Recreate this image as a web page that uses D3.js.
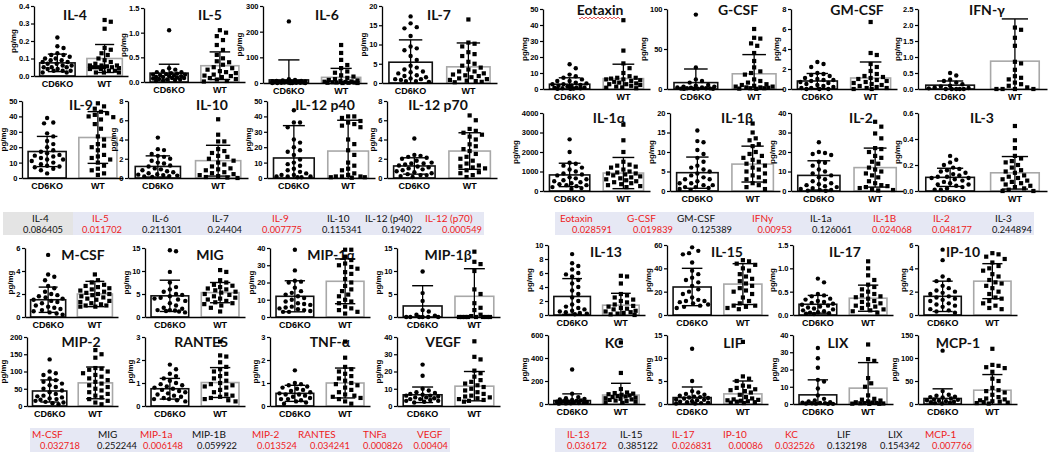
<!DOCTYPE html>
<html><head><meta charset="utf-8">
<script src="https://cdn.jsdelivr.net/npm/d3@7"></script>
<style>body{margin:0;background:#fff}svg{display:block}</style>
</head><body><svg id="c" width="1050" height="454"></svg>
<script>
// ---------------- DATA ----------------
const groups = ["CD6KO", "WT"];
const panelNames = ["IL-4","IL-5","IL-6","IL-7","IL-9","IL-10","IL-12 p40","IL-12 p70",
  "Eotaxin","G-CSF","GM-CSF","IFN-γ","IL-1α","IL-1β","IL-2","IL-3",
  "M-CSF","MIG","MIP-1α","MIP-1β","MIP-2","RANTES","TNF-α","VEGF",
  "IL-13","IL-15","IL-17","IP-10","KC","LIF","LIX","MCP-1"];
const yTickLabels = [
  ["0.0","0.1","0.2","0.3","0.4"],["0.0","0.5","1.0","1.5"],["0","100","200","300"],["0","5","10","15","20"],
  ["0","10","20","30","40","50"],["0","2","4","6","8"],["0","10","20","30","40","50"],["0","2","4","6","8"],
  ["0","10","20","30","40","50"],["0","50","100"],["0","2","4","6","8"],["0.0","0.5","1.0","1.5","2.0","2.5"],
  ["0","1000","2000","3000","4000"],["0","5","10","15","20"],["0","10","20","30","40"],["0.0","0.2","0.4","0.6"],
  ["0","2","4","6"],["0","5","10","15"],["0","10","20","30","40"],["0","5","10","15"],
  ["0","50","100","150","200"],["0","1","2","3"],["0","1","2","3"],["0","10","20","30","40"],
  ["0","2","4","6","8","10"],["0","20","40","60"],["0.0","0.5","1.0","1.5"],["0","2","4","6"],
  ["0","200","400","600"],["0","5","10","15"],["0","10","20","30","40"],["0","50","100","150"]];
const koMean = [0.075,0.18,12,5.4, 17.2,1.2,13,1.25, 3,8,0.8,0.12, 824,4.7,8,0.105,
  1.5,4.6,12,2.4, 43.5,0.75,0.55,6.5, 2.65,24,0.23,1.6, 30,1.4,5.3,12];
const koSD = [0.05,0.18,78,5.8, 9.8,1.1,21,0.85, 4,17,0.75,0.13, 600,4.0,7.5,0.07,
  1.1,3.4,9,4.4, 32,0.45,0.35,4.5, 2.55,16,0.19,1.3, 58,2.3,8.7,21];
const wtMean = [0.10,0.33,22,4.2, 26.3,1.8,17.5,2.8, 6.5,19,1.1,0.87, 920,6.9,12,0.14,
  2.0,5.3,20.7,4.5, 67,1.02,1.0,11.5, 1.4,26.5,0.36,2.9, 78,2.2,9.2,30];
const wtSD = [0.08,0.28,35,6.2, 16.8,1.6,20,1.9, 9,24,1.6,1.32, 800,4.6,10,0.125,
  1.1,2.2,13,6, 46,0.65,0.65,8.5, 1.7,17.5,0.28,1.5, 102,2.8,14.8,34];
const koPoints = [
  [0.22,0.17,0.16,0.13,0.12,0.12,0.11,0.10,0.10,0.09,0.09,0.08,0.08,0.07,0.07,0.06,0.06,0.05,0.05,0.05,0.04,0.04,0.03,0.03,0.03,0.02,0.02],
  [1.05,0.28,0.25,0.22,0.2,0.2,0.18,0.17,0.16,0.15,0.15,0.14,0.13,0.12,0.12,0.1,0.1,0.09,0.08,0.08,0.07,0.06,0.05,0.05,0.04,0.03,0.02],
  [240,15,12,10,8,8,7,6,5,5,4,4,3,3,2,2,2,1,1,1,0,0,0,0,0],
  [17.3,15.5,14.5,14.2,12.2,9.5,9.0,8.5,7.0,6.0,4.5,4.0,3.5,3.0,2.8,2.5,2.0,1.8,1.5,1.2,1.0,1.0,0.8,0.5,0.5,0.3],
  [39,36,35.5,29,27,24,22,20,18,17,16,15,14.5,14,13,12,12,11,10,9,8,7.5,7,6,5,3],
  [4.2,3.0,2.9,2.5,2.3,2.2,2.0,1.8,1.6,1.5,1.3,1.2,1.0,0.9,0.8,0.7,0.6,0.5,0.4,0.35,0.3,0.25,0.2,0.15,0.1],
  [44,36,36,33,25,23,20,18,17,15,12,10,9,8,6,5,4,3,2,2,1,1,1,0.5,0.5],
  [4.1,2.4,2.3,2.2,2.1,2.0,1.8,1.6,1.5,1.5,1.4,1.3,1.2,1.1,1.0,0.9,0.8,0.7,0.6,0.5,0.4,0.3,0.3,0.2,0.1],
  [15.5,13,9,8,7,6,5,5,4,3.5,3,3,2.5,2,2,1.5,1,1,0.8,0.5,0.5,0.3,0.2,0.1],
  [93,27,12,10,8,5,4,3,3,2,2,1.5,1,1,0.8,0.5,0.5,0.3,0.2,0.1],
  [2.7,2.5,2.2,1.6,1.5,1.4,1.3,1.1,1.0,0.9,0.9,0.8,0.7,0.6,0.5,0.4,0.3,0.2,0.1,0.1,0,0,0],
  [0.5,0.42,0.3,0.25,0.2,0.15,0.1,0.08,0.05,0.03,0.02,0,0,0,0,0],
  [2650,2000,1450,1400,1300,1200,1100,1000,900,850,800,700,650,600,550,500,450,400,350,300,300,250,200,150,100],
  [15.5,12.8,12.5,10.5,9.5,8.5,7.5,6.5,6,5.5,5,4.5,4,3.5,3,3,2.5,2,2,1.5,1.5,1,1,0.8,0.5,0.3],
  [25,20,19.5,19,18.5,15,14.5,13,11,10,9,8,7,6,5,4,3.5,3,2.5,2,1.5,1,0.5,0.5,0.2,0.1],
  [0.27,0.24,0.22,0.2,0.18,0.17,0.16,0.15,0.14,0.13,0.12,0.11,0.11,0.1,0.1,0.09,0.08,0.07,0.06,0.05,0.05,0.04,0.03,0.02,0.01,0.01],
  [5.4,3.7,3.5,3.2,2.7,2.5,2.2,2.0,1.9,1.8,1.7,1.6,1.5,1.4,1.3,1.2,1.0,0.9,0.8,0.7,0.6,0.5,0.4,0.3,0.2],
  [14.5,14.3,9.8,7.5,6.5,6.0,5.5,5.0,4.8,4.5,4.2,4.0,3.8,3.5,3.0,2.5,2.0,1.8,1.5,1.5,1.4,1.3,1.2,1.0],
  [39,27,21,20.5,20,17,15,14,13,12,11,10,9,8,7.5,7,6,5.5,5,4.5,4,3.5,3,3],
  [9.9,5.2,3.5,1.5,1.2,0.5,0.3,0,0,0,0,0,0],
  [135,100,95,90,80,75,70,65,60,55,50,45,40,35,30,28,25,22,20,18,15,12,10,8,5],
  [1.8,1.6,1.4,1.3,1.2,1.1,1.0,0.95,0.9,0.85,0.8,0.75,0.7,0.65,0.6,0.55,0.5,0.45,0.4,0.35,0.3,0.3,0.25,0.2],
  [1.55,1.0,0.95,0.9,0.85,0.8,0.75,0.7,0.65,0.6,0.55,0.5,0.5,0.45,0.4,0.35,0.3,0.3,0.25,0.2,0.15,0.1],
  [24,17.5,10,9,8,7.5,7,6.5,6,6,5.5,5,5,4.5,4,4,3.5,3,3,2.5,2],
  [8.7,7.4,7.0,6.5,6.0,5.8,5.5,5.0,4.5,4.0,3.5,3.0,2.5,2.0,1.5,1.2,1.0,0.8,0.6,0.5,0.4,0.3,0.2,0.1],
  [58,55,53,52,45,38,35,32,30,28,25,22,20,18,15,13,12,12,11,10,9,8,7,6],
  [0.78,0.7,0.45,0.42,0.4,0.35,0.33,0.3,0.28,0.26,0.24,0.22,0.2,0.18,0.16,0.14,0.12,0.1,0.08,0.06,0.05,0.04,0.03,0.02],
  [5.6,4.7,3.3,3.0,2.9,2.5,2.3,2.1,2.0,1.9,1.8,1.6,1.5,1.4,1.3,1.2,1.0,0.9,0.8,0.7,0.5,0.4,0.3,0.2],
  [300,90,60,50,45,40,35,30,28,25,22,20,18,15,12,10,8,6,5,3],
  [12,5,2.8,2.5,2.2,2,1.8,1.6,1.5,1.4,1.3,1.2,1,0.9,0.8,0.6,0.5,0.4,0.3,0.2,0.1,0.1],
  [32.5,26.5,21,14,13,9,5,3,2,1.5,1,0.8,0.6,0.5,0.4,0.3,0.2,0.1,0.1],
  [116,28,20,18,16,15,14,12,10,9,8,7,6,5,4,3,2,1]];
const wtPoints = [
  [0.32,0.31,0.27,0.16,0.15,0.13,0.12,0.10,0.09,0.08,0.07,0.06,0.06,0.055,0.05,0.05,0.05,0.045,0.04,0.04,0.03,0.03,0.02,0.02,0.02,0.05,0.06],
  [1.05,1.0,0.93,0.85,0.75,0.65,0.55,0.48,0.42,0.4,0.35,0.3,0.28,0.25,0.22,0.2,0.18,0.15,0.13,0.12,0.1,0.08,0.06,0.05,0.02,0.01],
  [148,117,90,70,58,45,40,30,25,20,15,12,10,8,6,5,4,3,2,2,1,1,0,0],
  [16.5,10.5,10.2,9.5,8.0,7.5,7.0,5.5,5.0,4.5,4.0,3.5,3.0,3.0,2.5,2.2,2.0,1.8,1.5,1.2,1.0,0.8,0.6,0.5,0.3,0.2],
  [48.5,46.5,45,43,42,41,40,39.5,38,35,32,27,25,22,21,20,18,15,14,13,12,10,8,6,5,3,2],
  [6.1,4.5,3.8,3.8,3.0,2.8,2.6,2.3,2.2,2.0,1.8,1.6,1.4,1.2,1.0,0.9,0.8,0.6,0.5,0.4,0.3,0.2,0.1,0.05,0.0],
  [40,40,39,37,36,35,34,33,25,22,18,15,10,8,6,5,3,2,1,1,1,0.5,0.5,0.2],
  [6.5,6.0,5.1,4.9,4.7,4.5,4.3,4.0,3.5,3.3,3.0,2.8,2.5,2.2,2.0,1.8,1.5,1.3,1.2,1.1,1.0,0.8,0.6,0.5,0.3,0.1],
  [43,24,16,13,10,8,7,7,6.5,6,6,5.5,5,4.5,4,3.5,3,3,2.5,2,1.5,1,0.8,0.5],
  [75,64,63,57,54,45,35,27,22,20,18,12,10,8,6,5,4,3,3,2,2,1.5,1,1,0.5,0.3],
  [6.7,3.6,3.4,2.5,2.2,1.8,1.5,1.3,1.2,1.1,1.0,0.9,0.8,0.7,0.6,0.5,0.4,0.3,0.2,0.1,0.1,0,0],
  [1.92,1.85,1.6,1.35,0.85,0.8,0.6,0.4,0.35,0.3,0.2,0.15,0.1,0.05,0,0,0,0],
  [3400,2600,2000,1500,1350,1300,1250,1200,1100,1000,950,900,900,850,800,750,700,650,600,550,500,450,400,350,300,250,200],
  [17.3,15,13.5,13,12,11.5,10,9.5,9,8.5,8,7.5,7,6.5,6,5.5,5,4.5,4,3.5,3,2.5,2,1.5,1,0.5],
  [35.5,33,29.5,27,22,21.5,20,18,17,15,14,12,11,10,9,8,7,5,4,3,2.5,2,1.5,1,0.5,0.3],
  [0.5,0.39,0.33,0.27,0.25,0.23,0.22,0.2,0.18,0.16,0.15,0.14,0.12,0.11,0.1,0.09,0.08,0.07,0.06,0.05,0.04,0.03,0.02,0.01,0,0],
  [3.7,3.2,3.0,2.8,2.7,2.6,2.5,2.4,2.3,2.2,2.1,2.0,2.0,1.9,1.8,1.7,1.6,1.5,1.4,1.3,1.2,1.1,1.0,1.0,0.9,0.9],
  [10.2,9.8,8.0,7.5,7.0,6.8,6.5,6.2,6.0,5.8,5.5,5.3,5.0,4.8,4.5,4.2,4.0,3.8,3.5,3.2,3.0,2.8,2.5,2.0,1.2],
  [39,39,35,33,31,30,29,28,26,25,22,20,18,16,15,13,12,10,9,8,6,5,4,3,2],
  [14.2,12,11.5,10,6,5,3,2,1.5,0.5,0.2,0,0,0,0,0,0,0,0],
  [162,150,140,110,108,105,100,95,90,85,80,75,70,65,60,55,50,45,40,35,30,25,20,15,10,5],
  [2.8,2.2,2.15,1.9,1.7,1.6,1.5,1.4,1.3,1.2,1.1,1.0,0.95,0.9,0.85,0.8,0.7,0.6,0.5,0.45,0.4,0.35,0.3,0.25,0.2],
  [2.8,2.1,1.7,1.6,1.5,1.4,1.3,1.2,1.1,1.0,0.95,0.9,0.8,0.7,0.6,0.5,0.45,0.4,0.35,0.3,0.2,0.1],
  [37.5,28.5,27,20.5,19,17,15,14,13,12,11,10,9,8,7,6,5.5,5,4.5,4,3.5,3,2.5],
  [5.6,5.5,4.5,3.0,2.8,2.5,2.2,2.0,1.8,1.5,1.3,1.2,1.0,0.9,0.8,0.6,0.5,0.4,0.3,0.2,0.1,0.0],
  [47,46,44,43,40,38,35,33,31,29,27,25,23,21,20,18,15,12,10,8,8,7,6,5],
  [1.15,1.0,0.85,0.75,0.65,0.6,0.55,0.5,0.45,0.42,0.4,0.38,0.35,0.3,0.28,0.25,0.22,0.2,0.18,0.15,0.12,0.1,0.08,0.05],
  [5.3,5.2,5.0,4.8,4.5,4.2,4.0,3.8,3.5,3.3,3.0,2.8,2.7,2.5,2.3,2.0,1.8,1.5,1.4,1.2,1.0,0.8,0.6,0.5],
  [535,270,130,100,95,90,85,80,75,70,65,60,55,50,45,40,35,30,25,20,15,10],
  [13.5,6.0,5.5,5.0,4.0,3.8,3.5,3.2,3.0,2.8,2.5,2.0,1.5,1.2,1.0,0.9,0.8,0.7,0.6,0.5,0.4,0.3,0.2],
  [34.5,26,25,15,12,10,5,3,2.5,2,1.5,1,0.8,0.6,0.5,0.4,0.3,0.2,0.1,0.1],
  [120,85,83,80,78,70,55,50,35,30,28,25,20,15,12,10,8,6,5,4,3,2,1]];
// p-value tables
const table1Names = ["IL-4","IL-5","IL-6","IL-7","IL-9","IL-10","IL-12 (p40)","IL-12 (p70)"];
const table1P = ["0.086405","0.011702","0.211301","0.24404","0.007775","0.115341","0.194022","0.000549"];
const table2Names = ["Eotaxin","G-CSF","GM-CSF","IFNy","IL-1a","IL-1B","IL-2","IL-3"];
const table2P = ["0.028591","0.019839","0.125389","0.00953","0.126061","0.024068","0.048177","0.244894"];
const table3Names = ["M-CSF","MIG","MIP-1a","MIP-1B","MIP-2","RANTES","TNFa","VEGF"];
const table3P = ["0.032718","0.252244","0.006148","0.059922","0.013524","0.034241","0.000826","0.00404"];
const table4Names = ["IL-13","IL-15","IL-17","IP-10","KC","LIF","LIX","MCP-1"];
const table4P = ["0.036172","0.385122","0.026831","0.00086","0.032526","0.132198","0.154342","0.007766"];

// ---------------- LAYOUT ----------------
// [axisX, xEnd, top, bottom, titleCenterX, titleCenterY]
const boxes = [
  [34,128,6,76,75,15],[144,245,8,82,210,15],[263,367,6,83,327,15],[382,497,6,83,439,15],
  [22,123,101,178,81,105],[128,248,101,178,212,105],[267,375,101,178,325,105],[387,497,101,178,438,105],
  [543,650,9,89,600,10],[667,783,9,89,738,10],[791,897,9,89,857,10],[918,1047,9,89,987,10],
  [543,650,113,191,609,118],[670,780,113,191,737,118],[791,903,113,191,861,118],[918,1047,113,191,982,118],
  [25,118,248,317,83,255],[145,245,248,317,210,255],[270,370,248,317,331,255],[397,500,248,317,448,255],
  [27,118,337,406,81,342],[145,245,337,406,201,342],[270,370,337,406,330,342],[397,500,337,406,443,342],
  [548,645,245,315,606,252],[667,768,245,315,727,252],[793,893,245,315,845,252],[918,1017,245,315,963,252],
  [548,645,335,404,614,343],[667,768,335,404,733,343],[793,893,335,404,838,343],[918,1017,335,404,958,343]];
const tableLayouts = [
  {names: table1Names, ps: table1P, x0: 3, x1: 482, y0: 212, y1: 235, hx: [32,92,152,212,272,327,365,425], vx: [63,122,182,242,302,362,422,482], firstGrey: true},
  {names: table2Names, ps: table2P, x0: 555, x1: 1032, y0: 212, y1: 235, hx: [560,627,677,752,810,873,933,995], vx: [612,673,732,792,852,912,972,1032]},
  {names: table3Names, ps: table3P, x0: 30, x1: 448, y0: 428, y1: 452, hx: [32,98,140,192,252,298,363,417], vx: [80,137,183,237,297,350,403,448]},
  {names: table4Names, ps: table4P, x0: 555, x1: 972, y0: 428, y1: 452, hx: [567,620,672,723,785,837,888,925], vx: [607,658,712,763,815,867,920,972]}];

const svg = d3.select("#c");
svg.append("rect").attr("width",1050).attr("height",454).attr("fill","#fff");
const FONT = "'Liberation Sans', Arial, sans-serif";
const TFONT = "Lato, 'Open Sans', sans-serif";

// deterministic beeswarm: spread points sideways so they do not overlap
function swarm(ys, r, maxHalf) {
  const order = d3.range(ys.length).sort((a,b)=>ys[a]-ys[b]);
  const placed = [];
  const xs = new Array(ys.length).fill(0);
  const step = r * 1.4, minD = 2*r + 1.6;
  order.forEach(i => {
    const y = ys[i];
    let best = 0, found = false;
    for (let k = 0; k < 60 && !found; k++) {
      const off = (k % 2 === 1 ? 1 : -1) * Math.ceil(k/2) * step;
      if (Math.abs(off) > maxHalf) continue;
      const ok = placed.every(p => (p[0]-off)**2 + (p[1]-y)**2 >= minD*minD);
      if (ok) { best = off; found = true; }
    }
    if (!found) {
      let bestScore = Infinity;
      for (let off = -maxHalf; off <= maxHalf; off += 1) {
        const s = d3.min(placed, p => (p[0]-off)**2 + (p[1]-y)**2) || 0;
        if (-s < bestScore) { bestScore = -s; best = off; }
      }
    }
    xs[i] = best; placed.push([best, y]);
  });
  return xs;
}

panelNames.forEach((name, i) => {
  const [ax, xe, top, bot, tcx, tcy] = boxes[i];
  const ticks = yTickLabels[i].map(Number);
  const yMax = ticks[ticks.length-1];
  const y = d3.scaleLinear().domain([0, yMax]).range([bot, top]);
  const x = d3.scaleBand().domain(groups).range([ax, xe]).paddingInner(0.25).paddingOuter(0.12);
  const g = svg.append("g");
  const bw = x.bandwidth();
  const means = [koMean[i], wtMean[i]], sds = [koSD[i], wtSD[i]], pts = [koPoints[i], wtPoints[i]];
  // title (behind marks)
  g.append("text").attr("x", tcx).attr("y", tcy).attr("dy","0.36em").attr("text-anchor","middle")
    .attr("font-family",TFONT).attr("font-weight","bold").attr("font-size",14).attr("fill","#111").text(name);
  if (name === "Eotaxin") {
    const x0 = tcx - 21, x1 = tcx + 21, yy = tcy + 8;
    let p = `M${x0},${yy}`;
    for (let xx = x0; xx < x1; xx += 2) p += ` L${xx+1},${yy + ((xx-x0)/2 % 2 === 0 ? 1 : -1)}`;
    g.append("path").attr("d", p).attr("fill","none").attr("stroke","#e03030").attr("stroke-width",0.8);
  }
  groups.forEach((grp, gi) => {
    const bx = x(grp);
    g.append("rect").attr("x", bx).attr("y", y(means[gi])).attr("width", bw)
      .attr("height", bot - y(means[gi])).attr("fill","#fff")
      .attr("stroke", gi===0 ? "#111" : "#a8a8a8").attr("stroke-width", 1.6);
  });
  // points
  groups.forEach((grp, gi) => {
    const cx = x(grp) + bw/2;
    const ys = pts[gi].map(v => y(v));
    const xs = swarm(ys, 2.2, bw/2 - 3);
    if (gi === 0) {
      g.selectAll(null).data(ys).enter().append("circle")
        .attr("cx", (d,k)=>cx+xs[k]).attr("cy", d=>d).attr("r", 2.2).attr("fill","#000");
    } else {
      g.selectAll(null).data(ys).enter().append("rect")
        .attr("x", (d,k)=>cx+xs[k]-2.1).attr("y", d=>d-2.1).attr("width",4.2).attr("height",4.2).attr("fill","#000");
    }
  });
  // error bars (mean ± SD)
  groups.forEach((grp, gi) => {
    const cx = x(grp) + bw/2, cw = bw * 0.27;
    const hi = y(Math.min(means[gi]+sds[gi], yMax*1.1));
    const loV = means[gi]-sds[gi];
    const lo = y(Math.max(loV, 0));
    g.append("line").attr("x1",cx).attr("x2",cx).attr("y1",hi).attr("y2",lo).attr("stroke","#000").attr("stroke-width",1.3);
    g.append("line").attr("x1",cx-cw).attr("x2",cx+cw).attr("y1",hi).attr("y2",hi).attr("stroke","#000").attr("stroke-width",1.4);
    if (loV > 0) g.append("line").attr("x1",cx-cw).attr("x2",cx+cw).attr("y1",lo).attr("y2",lo).attr("stroke","#000").attr("stroke-width",1.4);
  });
  // axes
  const ya = g.append("g").attr("transform",`translate(${ax},0)`)
    .call(d3.axisLeft(y).tickValues(ticks).tickFormat((d,k)=>yTickLabels[i][k]).tickSize(3).tickSizeOuter(0).tickPadding(1.5));
  ya.select(".domain").attr("stroke","#000").attr("stroke-width",1.3);
  ya.selectAll(".tick line").attr("stroke","#000").attr("stroke-width",1.2);
  ya.selectAll("text").attr("font-family",FONT).attr("font-weight","bold").attr("font-size",7.5).attr("fill","#000");
  let maxW = 0;
  ya.selectAll("text").each(function(){ maxW = Math.max(maxW, this.getComputedTextLength()); });
  const xa = g.append("g").attr("transform",`translate(0,${bot})`)
    .call(d3.axisBottom(x).tickSize(0).tickSizeOuter(0).tickPadding(5));
  xa.select(".domain").attr("stroke","#000").attr("stroke-width",1.3);
  xa.selectAll("text").attr("font-family",FONT).attr("font-weight","bold").attr("font-size",9).attr("fill","#000");
  g.append("text").attr("transform",`translate(${ax - maxW - 8},${(top+bot)/2}) rotate(-90)`)
    .attr("text-anchor","middle").attr("font-family",FONT).attr("font-weight","bold").attr("font-size",8).text("pg/mg");
});

// tables
tableLayouts.forEach(t => {
  const g = svg.append("g");
  const ym = (t.y0 + t.y1)/2;
  g.append("rect").attr("x",t.x0).attr("y",t.y0).attr("width",t.x1-t.x0+2).attr("height",t.y1-t.y0).attr("fill","#e6e8f4");
  if (t.firstGrey) g.append("rect").attr("x",t.x0).attr("y",t.y0).attr("width",t.vx[0]+2-t.x0+8).attr("height",t.y1-t.y0).attr("fill","#e4e4e4");
  t.names.forEach((n, k) => {
    const col = (+t.ps[k] < 0.05) ? "#ee1c1c" : "#111";
    g.append("text").attr("x", t.hx[k]).attr("y", ym - 5.5).attr("dy","0.35em").attr("font-family",TFONT)
      .attr("font-size",10).attr("fill",col).text(n);
    g.append("text").attr("x", t.vx[k]).attr("y", ym + 6).attr("dy","0.35em").attr("text-anchor","end").attr("font-family",TFONT)
      .attr("font-size",9.3).attr("fill",col).text(t.ps[k]);
  });
});
</script></body></html>
